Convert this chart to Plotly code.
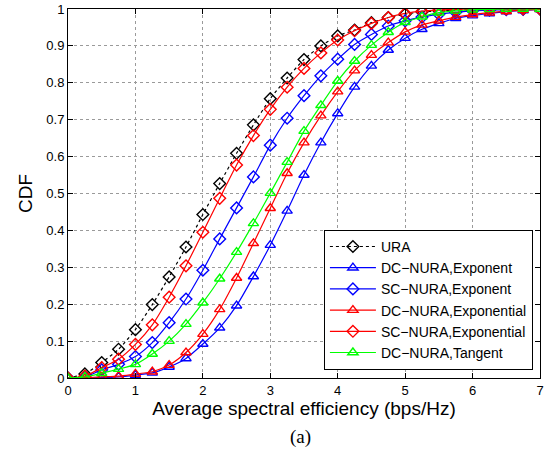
import plotly.graph_objects as go

x_vals = [0, 0.25, 0.5, 0.75, 1.0, 1.25, 1.5, 1.75, 2.0, 2.25, 2.5, 2.75, 3.0, 3.25, 3.5,
          3.75, 4.0, 4.25, 4.5, 4.75, 5.0, 5.25, 5.5, 5.75, 6.0, 6.25, 6.5, 6.75, 7.0]

ura = [0.0, 0.011, 0.042, 0.078, 0.131, 0.199, 0.274, 0.355, 0.443, 0.527, 0.609, 0.686, 0.757, 0.813, 0.863,
       0.900, 0.927, 0.943, 0.963, 0.977, 0.986, 0.992, 0.995, 0.997, 0.998, 0.999, 1.0, 1.0, 1.0]
dc_exponent = [0.0, 0.0, 0.001, 0.003, 0.008, 0.014, 0.030, 0.053, 0.092, 0.136, 0.196, 0.275, 0.360, 0.453, 0.550,
               0.638, 0.717, 0.789, 0.846, 0.889, 0.921, 0.945, 0.961, 0.975, 0.982, 0.988, 0.993, 0.996, 0.999]
sc_exponent = [0.0, 0.003, 0.022, 0.037, 0.058, 0.096, 0.150, 0.214, 0.292, 0.377, 0.461, 0.545, 0.631, 0.704, 0.765,
               0.819, 0.864, 0.904, 0.931, 0.954, 0.968, 0.978, 0.986, 0.991, 0.995, 0.997, 0.998, 0.999, 1.0]
dc_exponential = [0.0, 0.001, 0.003, 0.005, 0.011, 0.017, 0.035, 0.069, 0.119, 0.186, 0.271, 0.365, 0.460, 0.555, 0.638,
                  0.711, 0.776, 0.833, 0.875, 0.909, 0.938, 0.957, 0.968, 0.978, 0.985, 0.990, 0.994, 0.997, 0.999]
sc_exponential = [0.0, 0.005, 0.028, 0.051, 0.091, 0.144, 0.219, 0.304, 0.395, 0.487, 0.577, 0.657, 0.728, 0.788, 0.839,
                  0.881, 0.916, 0.941, 0.961, 0.977, 0.988, 0.994, 0.997, 0.999, 1.0, 1.0, 1.0, 1.0, 1.0]
dc_tangent = [0.0, 0.003, 0.013, 0.024, 0.037, 0.065, 0.100, 0.146, 0.204, 0.269, 0.341, 0.419, 0.501, 0.585, 0.669,
              0.739, 0.805, 0.859, 0.902, 0.937, 0.964, 0.979, 0.990, 0.995, 0.998, 0.999, 1.0, 1.0, 1.0]

x_ticks = [0, 1, 2, 3, 4, 5, 6, 7]
x_tick_labels = ["0", "1", "2", "3", "4", "5", "6", "7"]
y_ticks = [0, 0.1, 0.2, 0.3, 0.4, 0.5, 0.6, 0.7, 0.8, 0.9, 1.0]
y_tick_labels = ["0", "0.1", "0.2", "0.3", "0.4", "0.5", "0.6", "0.7", "0.8", "0.9", "1"]

series = [
    ("URA", ura, "black", "diamond-open", "dot"),
    ("DC\u2212NURA,Exponent", dc_exponent, "#0000ff", "triangle-up-open", "solid"),
    ("SC\u2212NURA,Exponent", sc_exponent, "#0000ff", "diamond-open", "solid"),
    ("DC\u2212NURA,Exponential", dc_exponential, "#ff0000", "triangle-up-open", "solid"),
    ("SC\u2212NURA,Exponential", sc_exponential, "#ff0000", "diamond-open", "solid"),
    ("DC\u2212NURA,Tangent", dc_tangent, "#00ff00", "triangle-up-open", "solid"),
]

fig = go.Figure()
for name, y, color, sym, dash in series:
    fig.add_trace(go.Scatter(
        x=x_vals, y=y, name=name, mode="lines+markers",
        line=dict(color=color, width=1.2, dash=dash, shape="spline", smoothing=0.6),
        marker=dict(symbol=sym, size=9, color=color, line=dict(width=1.4, color=color)),
    ))

axis_common = dict(
    showline=True, linecolor="black", linewidth=1, mirror="ticks",
    ticks="inside", ticklen=5, tickcolor="black",
    showgrid=True, gridcolor="#9a9a9a", griddash="dot", gridwidth=1,
    zeroline=False, tickfont=dict(size=13, color="black"), automargin=False,
)

fig.update_xaxes(range=[0, 7], tickvals=x_ticks, ticktext=x_tick_labels,
                 title=dict(text="Average spectral efficiency (bps/Hz)", font=dict(size=19, color="black"), standoff=4),
                 **axis_common)
fig.update_yaxes(range=[0, 1], tickvals=y_ticks, ticktext=y_tick_labels,
                 title=dict(text="CDF", font=dict(size=19, color="black"), standoff=8),
                 **axis_common)

fig.add_annotation(text="(a)", xref="paper", yref="paper", x=0.492, y=-0.16,
                   showarrow=False, xanchor="center", yanchor="middle",
                   font=dict(family="Liberation Serif, Times New Roman, serif", size=19, color="black"))

fig.update_layout(
    width=547, height=453,
    margin=dict(l=68, r=7, t=9, b=75),
    paper_bgcolor="white", plot_bgcolor="white",
    font=dict(family="Arial, Liberation Sans, sans-serif", color="black"),
    legend=dict(x=0.985, y=0.022, xanchor="right", yanchor="bottom",
                bgcolor="white", bordercolor="black", borderwidth=1,
                font=dict(size=14, color="black"), itemwidth=46, tracegroupgap=0),
    showlegend=True,
)

fig.write_html("out.html", config={"displayModeBar": False},
               post_script="document.body.style.margin='0';document.body.style.overflow='hidden';")
